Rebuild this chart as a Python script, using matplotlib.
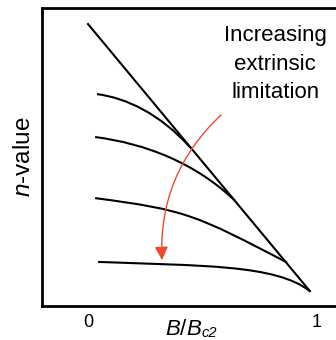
import matplotlib
matplotlib.use("Agg")
import matplotlib.pyplot as plt
from matplotlib.path import Path
from matplotlib.patches import PathPatch

plt.rcParams["font.family"] = ["Liberation Sans", "DejaVu Sans"]
plt.rcParams["mathtext.fontset"] = "custom"
plt.rcParams["mathtext.rm"] = "Liberation Sans"
plt.rcParams["mathtext.it"] = "Liberation Sans:italic"

# field (B/Bc2) and n-value (arbitrary units)
intrinsic_x = [0.0, 0.969]
intrinsic_n = [0.946, 0.050]

# the extrinsic curves are hand-drawn arcs: start, two bezier handles, end
curve_a_x = [0.039, 0.169, 0.315, 0.445]
curve_a_n = [0.711, 0.698, 0.644, 0.533]

curve_b_x = [0.031, 0.251, 0.470, 0.642]
curve_b_n = [0.567, 0.545, 0.480, 0.353]

curve_c_x = [0.031, 0.431, 0.469, 0.869]
curve_c_n = [0.362, 0.322, 0.306, 0.146]

curve_d_x = [0.044, 0.494, 0.819, 0.969]
curve_d_n = [0.148, 0.1345, 0.140, 0.050]

arrow_start = (0.581, 0.641)
arrow_end = (0.323, 0.154)

xticks = [0, 1]
xtick_labels = ["0", "1"]


def draw_curve(ax, xs, ns):
    verts = list(zip(xs, ns))
    codes = [Path.MOVETO, Path.CURVE4, Path.CURVE4, Path.CURVE4]
    patch = PathPatch(Path(verts, codes), facecolor="none", edgecolor="black",
                      lw=1.5, transform=ax.transData, capstyle="butt")
    ax.add_patch(patch)


def draw_figure(output_file="out.png"):
    fig = plt.figure(figsize=(3.36, 3.40), dpi=100)
    ax = fig.add_axes([0.125, 0.1, 0.875, 0.8765])

    ax.plot(intrinsic_x, intrinsic_n, color="black", lw=1.5)
    for xs, ns in [(curve_a_x, curve_a_n), (curve_b_x, curve_b_n),
                   (curve_c_x, curve_c_n), (curve_d_x, curve_d_n)]:
        draw_curve(ax, xs, ns)

    ax.annotate(
        "", xy=arrow_end, xytext=arrow_start,
        arrowprops=dict(arrowstyle="-|>,head_length=0.8,head_width=0.4",
                        color="#EE4B2B", lw=1.0, shrinkA=0, shrinkB=0,
                        connectionstyle="arc3,rad=0.23"),
    )

    ax.text(0.817, 0.812, "Increasing\nextrinsic\nlimitation",
            ha="center", va="center", multialignment="center",
            fontsize=16, linespacing=1.45)

    ax.set_xlim(-0.201, 1.083)
    ax.set_ylim(0, 1)
    ax.set_xticks(xticks)
    ax.set_xticklabels(xtick_labels)
    ax.set_yticks([])
    ax.tick_params(axis="x", length=0, pad=6, labelsize=13)

    ax.spines["right"].set_visible(False)
    for side in ["left", "top", "bottom"]:
        ax.spines[side].set_linewidth(2)

    xlabel = ax.set_xlabel("$B/B$", fontsize=16, va="baseline")
    ax.xaxis.set_label_coords(0.48, -0.098)
    ax.annotate("c2", xy=(1, 0), xycoords=xlabel, ha="left", va="bottom",
                fontsize=10.5, style="italic")
    ax.set_ylabel("$n$-value", fontsize=17.5)
    ax.yaxis.set_label_coords(-0.025, 0.5)

    fig.savefig(output_file, dpi=100)


draw_figure()
